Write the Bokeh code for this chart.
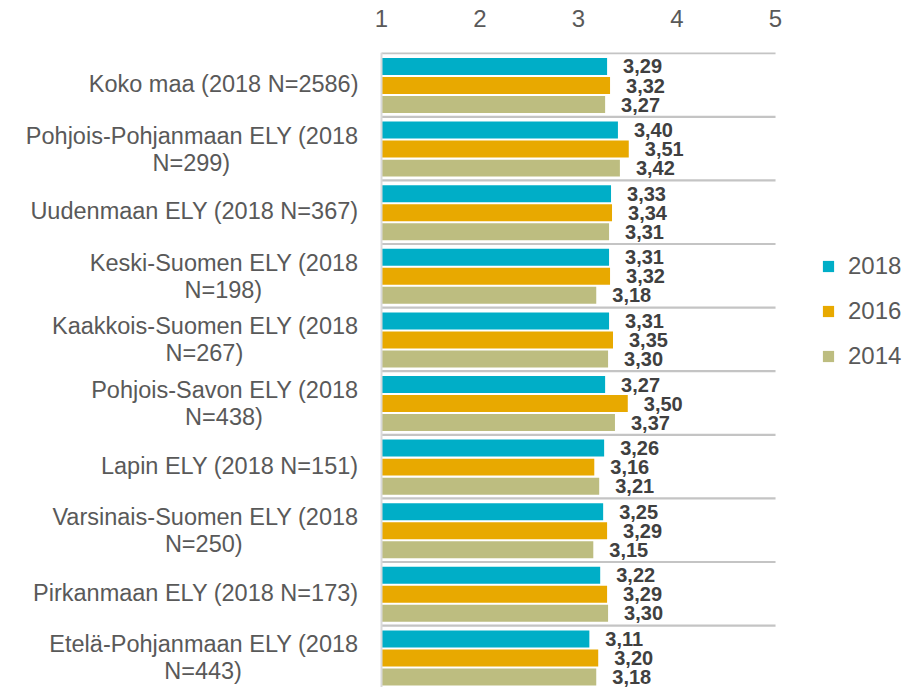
from bokeh.plotting import figure
from bokeh.models import (ColumnDataSource, Range1d, FixedTicker, Span, Legend, LegendItem)
from bokeh.core.properties import value
from bokeh.embed import file_html
from bokeh.resources import INLINE

categories = [
    "Koko maa (2018 N=2586)",
    "Pohjois-Pohjanmaan ELY (2018\nN=299)",
    "Uudenmaan ELY (2018 N=367)",
    "Keski-Suomen ELY (2018\nN=198)",
    "Kaakkois-Suomen ELY (2018\nN=267)",
    "Pohjois-Savon ELY (2018\nN=438)",
    "Lapin ELY (2018 N=151)",
    "Varsinais-Suomen ELY (2018\nN=250)",
    "Pirkanmaan ELY (2018 N=173)",
    "Etelä-Pohjanmaan ELY (2018\nN=443)",
]
v2018 = [3.29, 3.40, 3.33, 3.31, 3.31, 3.27, 3.26, 3.25, 3.22, 3.11]
v2016 = [3.32, 3.51, 3.34, 3.32, 3.35, 3.50, 3.16, 3.29, 3.29, 3.20]
v2014 = [3.27, 3.42, 3.31, 3.18, 3.30, 3.37, 3.21, 3.15, 3.30, 3.18]
series_names = ["2018", "2016", "2014"]
series_colors = ["#00AEC7", "#E8A900", "#BDBD80"]
x_ticks = [1, 2, 3, 4, 5]

FONT = "Liberation Sans"
CAT_FS = 23.5
VAL_FS = 20

# Arial / Liberation Sans advance widths (per 1000 em)
W = {}
for ch in "abdeghnopqu0123456789äö":
    W[ch] = 556
for ch in "ckszvxy":
    W[ch] = 500
W.update({"f": 278, "i": 222, "j": 222, "l": 222, "m": 833, "r": 333, "t": 278, "w": 722,
          " ": 278, "(": 333, ")": 333, "-": 333, "=": 584,
          "A": 667, "B": 667, "C": 722, "D": 722, "E": 667, "F": 611, "G": 778, "H": 722,
          "I": 278, "J": 500, "K": 667, "L": 556, "M": 833, "N": 722, "O": 778, "P": 667,
          "Q": 778, "R": 722, "S": 667, "T": 611, "U": 722, "V": 667, "W": 944, "X": 667,
          "Y": 667, "Z": 611})


def text_w(s, fs):
    return sum(W.get(c, 556) for c in s) / 1000.0 * fs


n = len(categories)
group_y = list(range(n))

p = figure(width=909, height=687, output_backend="svg", toolbar_location=None,
           x_axis_location="above", y_axis_location=None,
           x_range=Range1d(-2.868, 6.360), y_range=Range1d(9.473, -0.511),
           min_border_left=0, min_border_right=0, min_border_bottom=0, min_border_top=52)
p.outline_line_color = None
p.grid.visible = False
p.background_fill_color = "white"

ax = p.xaxis[0]
ax.ticker = FixedTicker(ticks=x_ticks)
ax.axis_line_color = None
ax.major_tick_line_color = None
ax.minor_tick_line_color = None
ax.major_label_text_font = FONT
ax.major_label_text_font_size = "24px"
ax.major_label_text_color = "#595959"
ax.major_label_standoff = 20

# group separators
p.segment(x0=[x_ticks[0]] * (n + 1), x1=[x_ticks[-1]] * (n + 1),
          y0=[g - 0.5 for g in range(n + 1)], y1=[g - 0.5 for g in range(n + 1)],
          line_color="#C4C4C4", line_width=2.2)
p.add_layout(Span(location=x_ticks[0], dimension="height", line_color="#D9D9D9", line_width=2))

pitch = 0.299
shift = 0.008
bar_h = 0.267
renderers = []
for k, (vals, name, col) in enumerate(zip([v2018, v2016, v2014], series_names, series_colors)):
    ys = [g + (k - 1) * pitch + shift for g in group_y]
    src = ColumnDataSource(dict(y=ys, right=vals, left=[x_ticks[0]] * n,
                                lbl=[f"{v:.2f}".replace(".", ",") for v in vals]))
    r = p.hbar(y="y", left="left", right="right", height=bar_h, source=src,
               fill_color=col, line_color=None)
    renderers.append(r)
    p.text(x="right", y="y", text="lbl", source=src, x_offset=16, y_offset=0,
           text_align="left", text_baseline="middle", text_font=value(FONT),
           text_font_style="bold", text_font_size=f"{VAL_FS}px", text_color="#404040")

# category labels
l1_txt, l1_y, l1_off = [], [], []
l2_txt, l2_y, l2_xoff = [], [], []
for g, c in zip(group_y, categories):
    parts = c.split("\n")
    if len(parts) == 1:
        l1_txt.append(parts[0]); l1_y.append(g); l1_off.append(-1)
    else:
        l1_txt.append(parts[0]); l1_y.append(g); l1_off.append(-13)
        w1 = text_w(parts[0], CAT_FS)
        l2_txt.append(parts[1]); l2_y.append(g); l2_xoff.append(-23 - w1 / 2)

s1 = ColumnDataSource(dict(x=[x_ticks[0]] * len(l1_txt), y=l1_y, t=l1_txt, yo=l1_off))
p.text(x="x", y="y", text="t", source=s1, x_offset=-23, y_offset="yo",
       text_align="right", text_baseline="middle", text_font=value(FONT),
       text_font_size=f"{CAT_FS}px", text_color="#595959")
s2 = ColumnDataSource(dict(x=[x_ticks[0]] * len(l2_txt), y=l2_y, t=l2_txt, xo=l2_xoff))
p.text(x="x", y="y", text="t", source=s2, x_offset="xo", y_offset=14,
       text_align="center", text_baseline="middle", text_font=value(FONT),
       text_font_size=f"{CAT_FS}px", text_color="#595959")

legend = Legend(items=[LegendItem(label=nm, renderers=[r]) for nm, r in zip(series_names, renderers)],
                location=(821, 317), orientation="vertical",
                glyph_width=14, glyph_height=14, label_standoff=13, spacing=17,
                padding=0, margin=0, border_line_color=None, background_fill_alpha=0,
                label_text_font=FONT, label_text_font_size="24px", label_text_color="#595959")
p.add_layout(legend)

open("out.html", "w").write(file_html(p, INLINE))
